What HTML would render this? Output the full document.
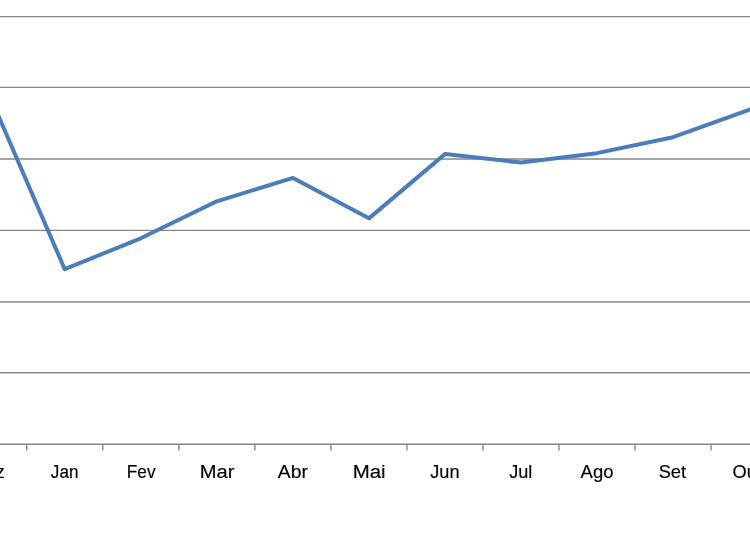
<!DOCTYPE html>
<html lang="pt">
<head>
<meta charset="utf-8">
<title>Gráfico</title>
<style>
html,body{margin:0;padding:0;background:#fff;overflow:hidden}
svg{display:block;will-change:transform}
text{font-family:"Liberation Sans",sans-serif;font-size:17.6px;fill:#000}
</style>
</head>
<body>
<svg width="750" height="536" viewBox="0 0 750 536">
<rect width="750" height="536" fill="#fff"/>
<g stroke="#878787" stroke-width="1.4" fill="none">
<line x1="-2" y1="16.65" x2="752" y2="16.65"/>
<line x1="-2" y1="87.4" x2="752" y2="87.4"/>
<line x1="-2" y1="158.95" x2="752" y2="158.95"/>
<line x1="-2" y1="230.4" x2="752" y2="230.4"/>
<line x1="-2" y1="302" x2="752" y2="302"/>
<line x1="-2" y1="372.8" x2="752" y2="372.8"/>
<line x1="-2" y1="444.3" x2="752" y2="444.3"/>
<line x1="-49.23" y1="444.3" x2="-49.23" y2="450.6"/>
<line x1="26.8" y1="444.3" x2="26.8" y2="450.6"/>
<line x1="102.83" y1="444.3" x2="102.83" y2="450.6"/>
<line x1="178.86" y1="444.3" x2="178.86" y2="450.6"/>
<line x1="254.89" y1="444.3" x2="254.89" y2="450.6"/>
<line x1="330.92" y1="444.3" x2="330.92" y2="450.6"/>
<line x1="406.95" y1="444.3" x2="406.95" y2="450.6"/>
<line x1="482.98" y1="444.3" x2="482.98" y2="450.6"/>
<line x1="559.01" y1="444.3" x2="559.01" y2="450.6"/>
<line x1="635.04" y1="444.3" x2="635.04" y2="450.6"/>
<line x1="711.07" y1="444.3" x2="711.07" y2="450.6"/>
<line x1="787.1" y1="444.3" x2="787.1" y2="450.6"/>
</g>
<polyline fill="none" stroke="#4a7ebb" stroke-width="4" stroke-linejoin="round" stroke-linecap="round" points="-11.315,93.4 64.72,269.2 140.755,238.3 216.79,201.3 293.025,177.9 368.96,218.35 445.195,153.9 520.93,162.6 596.965,153.15 673,137.2 749.035,109.8 825.07,83"/>
<g stroke="#000" stroke-width="0.15">
<text transform="translate(-28.30 478) scale(1.0550 1)">Dez</text>
<text transform="translate(50.80 478) scale(0.9754 1)">Jan</text>
<text transform="translate(126.82 478) scale(0.9801 1)">Fev</text>
<text transform="translate(199.66 478) scale(1.1446 1)">Mar</text>
<text transform="translate(277.80 478) scale(1.0964 1)">Abr</text>
<text transform="translate(352.64 478) scale(1.1617 1)">Mai</text>
<text transform="translate(430.20 478) scale(1.0341 1)">Jun</text>
<text transform="translate(509.20 478) scale(1.0304 1)">Jul</text>
<text transform="translate(580.60 478) scale(1.0516 1)">Ago</text>
<text transform="translate(658.63 478) scale(1.0406 1)">Set</text>
<text transform="translate(732.54 478) scale(1.0350 1)">Out</text>
<text transform="translate(808.04 478) scale(1.0550 1)">Nov</text>
</g>
</svg>
</body>
</html>
